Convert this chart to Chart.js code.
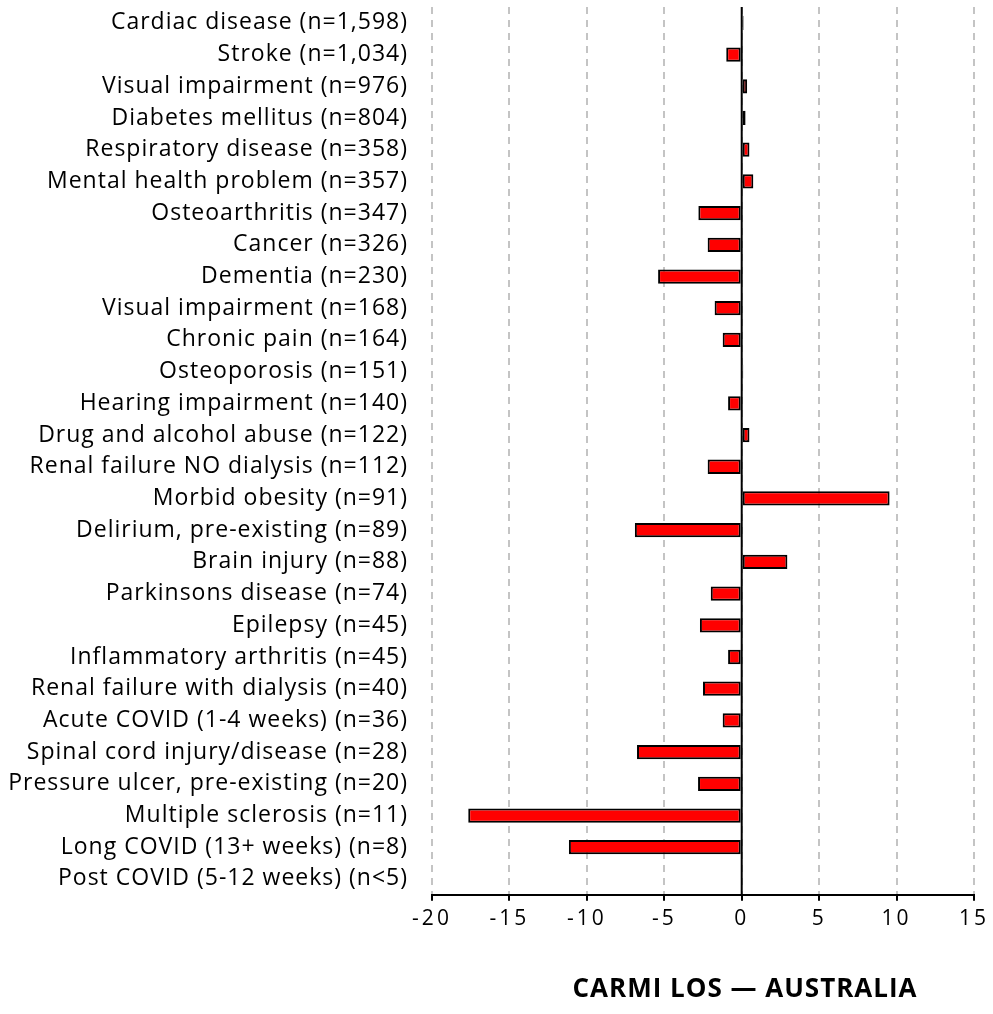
<!DOCTYPE html>
<html>
<head>
<meta charset="utf-8">
<script src="https://cdn.jsdelivr.net/npm/chart.js@4/dist/chart.umd.min.js"></script>
<style>
  html, body { margin: 0; padding: 0; background: #ffffff; }
  #wrap { width: 993px; height: 1014px; position: relative; }
</style>
</head>
<body>
<div id="wrap"><canvas id="c" width="993" height="1014"></canvas></div>
<script>
const categories = [
  "Cardiac disease (n=1,598)",
  "Stroke (n=1,034)",
  "Visual impairment (n=976)",
  "Diabetes mellitus (n=804)",
  "Respiratory disease (n=358)",
  "Mental health problem (n=357)",
  "Osteoarthritis (n=347)",
  "Cancer (n=326)",
  "Dementia (n=230)",
  "Visual impairment (n=168)",
  "Chronic pain (n=164)",
  "Osteoporosis (n=151)",
  "Hearing impairment (n=140)",
  "Drug and alcohol abuse (n=122)",
  "Renal failure NO dialysis (n=112)",
  "Morbid obesity (n=91)",
  "Delirium, pre-existing (n=89)",
  "Brain injury (n=88)",
  "Parkinsons disease (n=74)",
  "Epilepsy (n=45)",
  "Inflammatory arthritis (n=45)",
  "Renal failure with dialysis (n=40)",
  "Acute COVID (1-4 weeks) (n=36)",
  "Spinal cord injury/disease (n=28)",
  "Pressure ulcer, pre-existing (n=20)",
  "Multiple sclerosis (n=11)",
  "Long COVID (13+ weeks) (n=8)",
  "Post COVID (5-12 weeks) (n<5)"
];
const values = [
  0.12, -1.0, 0.35, 0.25, 0.5, 0.75, -2.8, -2.2, -5.4,
  -1.75, -1.23, 0.1, -0.88, 0.5, -2.2, 9.55, -6.9, 2.95,
  -2.0, -2.7, -0.88, -2.5, -1.23, -6.76, -2.82, -17.66, -11.16, null
];
const xTicks = [-20, -15, -10, -5, 0, 5, 10, 15];
const chartTitle = "CARMI LOS \u2014 AUSTRALIA";

const FONT = "'Open Sans', 'Noto Sans', sans-serif";

const spacingPlugin = {
  id: 'spacing',
  beforeDraw(chart) {
    chart.ctx.letterSpacing = '1px';
    const xs = chart.scales.x;
    if (!xs._patchedLabels) {
      const orig = xs.drawLabels;
      xs.drawLabels = function (area) {
        const ctx = this.ctx;
        const prev = ctx.letterSpacing;
        ctx.letterSpacing = '3px';
        orig.call(this, area);
        ctx.letterSpacing = prev;
      };
      xs._patchedLabels = true;
    }
  }
};

const zeroLinePlugin = {
  id: 'zeroLine',
  afterDatasetsDraw(chart) {
    const x = chart.scales.x.getPixelForValue(0);
    const ca = chart.chartArea;
    const ctx = chart.ctx;
    ctx.save();
    ctx.strokeStyle = '#000000';
    ctx.lineWidth = 2;
    ctx.beginPath();
    ctx.moveTo(x, ca.top);
    ctx.lineTo(x, ca.bottom);
    ctx.stroke();
    ctx.restore();
  }
};

const titlePlugin = {
  id: 'bottomTitle',
  afterDraw(chart) {
    const ctx = chart.ctx;
    ctx.save();
    ctx.letterSpacing = '1px';
    ctx.fillStyle = '#000000';
    ctx.font = "bold 26px " + FONT;
    ctx.textAlign = 'center';
    ctx.textBaseline = 'middle';
    ctx.fillText(chartTitle, 745, 990);
    ctx.restore();
  }
};

new Chart(document.getElementById('c'), {
  type: 'bar',
  data: {
    labels: categories,
    datasets: [{
      data: values,
      backgroundColor: '#ff0000',
      borderColor: '#000000',
      borderWidth: 2,
      borderSkipped: false,
      barPercentage: 0.45,
      categoryPercentage: 1.0
    }]
  },
  options: {
    indexAxis: 'y',
    responsive: false,
    animation: false,
    layout: { padding: { left: 0, right: 19, top: 7, bottom: 76 } },
    plugins: {
      legend: { display: false },
      tooltip: { enabled: false },
      title: { display: false }
    },
    scales: {
      x: {
        type: 'linear',
        min: -20,
        max: 15,
        afterBuildTicks(scale) {
          scale.ticks = xTicks.map(v => ({ value: v }));
        },
        afterFit(scale) {
          scale.paddingLeft = 0;
          scale.paddingRight = 0;
        },
        grid: {
          color: '#c4c4c4',
          lineWidth: 2,
          drawTicks: true,
          tickLength: 6,
          tickColor: '#000000',
          tickWidth: 2
        },
        border: {
          display: true,
          color: '#000000',
          width: 2,
          dash: [7, 6]
        },
        ticks: {
          color: '#000000',
          font: { family: FONT, size: 21 },
          padding: 6
        }
      },
      y: {
        afterFit(scale) {
          scale.width = 432;
          scale.paddingTop = 0;
          scale.paddingBottom = 0;
        },
        grid: { display: false, drawTicks: false },
        border: { display: false },
        ticks: {
          color: '#000000',
          font: { family: FONT, size: 23 },
          padding: 24,
          autoSkip: false
        }
      }
    }
  },
  plugins: [spacingPlugin, zeroLinePlugin, titlePlugin]
});
</script>
</body>
</html>
